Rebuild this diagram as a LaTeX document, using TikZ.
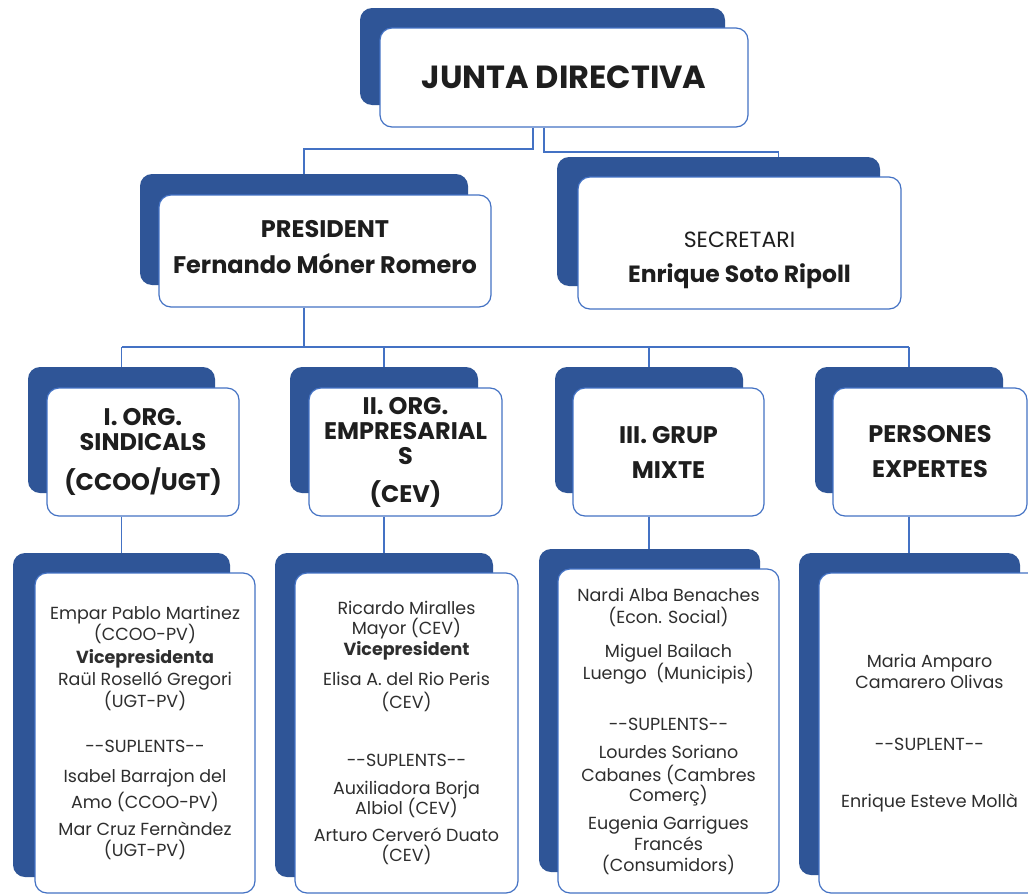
\documentclass[tikz,border=0pt]{standalone}
\usepackage{fontspec}
\setmainfont{Poppins}
\usetikzlibrary{calc}
\definecolor{navy}{HTML}{2F5597}
\definecolor{edge}{HTML}{4472C4}
\definecolor{ink}{HTML}{1E1E1E}
\definecolor{soft}{HTML}{2E2E2E}
\tikzset{
  back/.style={fill=navy, rounded corners=12pt, inner sep=0pt, draw=none},
  card/.style={fill=white, draw=edge, line width=1.2pt, rounded corners=12pt, inner sep=2pt, align=center, text=ink},
  conn/.style={draw=edge, line width=1.5pt},
  head/.style={font=\bfseries\fontsize{24}{25}\selectfont},
  body/.style={font=\fontsize{17.5}{21.5}\selectfont, text=soft},
}
\begin{document}
\begin{tikzpicture}[x=1pt,y=-1pt]
\useasboundingbox (0,0) rectangle (1028,894);
\fill[white] (0,0) rectangle (1028,894);

% top level
\node[back, minimum width=365pt, minimum height=97pt] (top-b) at (542.5,56.5) {};
\node[card, minimum width=368pt, minimum height=99pt, font=\bfseries\fontsize{32}{36}\selectfont] (top) at (564,77.5) {JUNTA DIRECTIVA};

% president / secretari
\node[back, minimum width=328pt, minimum height=111pt] (pres-b) at (304,229.5) {};
\node[card, minimum width=332pt, minimum height=112pt, font=\bfseries\fontsize{24}{36}\selectfont] (pres) at (325,251) {PRESIDENT\\Fernando Móner Romero\\[-28pt]\mbox{}};
\node[back, minimum width=323pt, minimum height=129pt] (sec-b) at (718.5,221.5) {};
\node[card, minimum width=323pt, minimum height=132pt, font=\fontsize{22}{35}\selectfont] (sec) at (739.5,243) {\mbox{}\\[16pt]SECRETARI\\{\bfseries\fontsize{23.5}{35}\selectfont Enrique Soto Ripoll}};

% row 3
\node[back, minimum width=187pt, minimum height=126pt] (c1-b) at (121.5,430) {};
\node[card, head, minimum width=192pt, minimum height=128pt] (c1) at (143,452) {I. ORG.\\SINDICALS\\[15pt](CCOO/UGT)};
\node[back, minimum width=188pt, minimum height=126pt] (c2-b) at (384,430) {};
\node[card, head, minimum width=193pt, minimum height=128pt] (c2) at (405.5,452) {II. ORG.\\EMPRESARIAL\\S\\[13pt](CEV)};
\node[back, minimum width=188pt, minimum height=126pt] (c3-b) at (649,430) {};
\node[card, head, minimum width=191pt, minimum height=128pt] (c3) at (668.5,452) {III. GRUP\\[10pt]MIXTE};
\node[back, minimum width=188pt, minimum height=126pt] (c4-b) at (909,430) {};
\node[card, head, minimum width=194pt, minimum height=128pt] (c4) at (930,452) {PERSONES\\[10pt]EXPERTES};

% row 4
\node[back, minimum width=217pt, minimum height=324pt] (p1-b) at (121.5,715) {};
\node[card, body, minimum width=220pt, minimum height=320pt] (p1) at (145,733) {Empar Pablo Martinez\\(CCOO-PV)\\[1pt]\textbf{Vicepresidenta}\\[1pt]Raül Roselló Gregori\\(UGT-PV)\\[24pt]-{}-SUPLENTS-{}-\\[8pt]Isabel Barrajon del\\[5pt]Amo (CCOO-PV)\\[5pt]Mar Cruz Fernàndez\\(UGT-PV)};
\node[back, minimum width=218pt, minimum height=324pt] (p2-b) at (384,715) {};
\node[card, body, minimum width=223pt, minimum height=320pt] (p2) at (406.5,733) {Ricardo Miralles\\[-1pt]Mayor (CEV)\\[-1pt]\textbf{Vicepresident}\\[9pt]Elisa A. del Rio Peris\\[1pt](CEV)\\[37pt]-{}-SUPLENTS-{}-\\[6pt]Auxiliadora Borja\\[-1pt]Albiol (CEV)\\[5pt]Arturo Cerveró Duato\\[-1pt](CEV)};
\node[back, minimum width=221pt, minimum height=323pt] (p3-b) at (649.5,710.5) {};
\node[card, body, minimum width=221pt, minimum height=324pt] (p3) at (668.5,731) {Nardi Alba Benaches\\[1pt](Econ. Social)\\[12pt]Miguel Bailach\\[1pt]Luengo\ \ (Municipis)\\[29pt]-{}-SUPLENTS-{}-\\[7pt]Lourdes Soriano\\[1pt]Cabanes (Cambres\\[-1pt]Comerç)\\[6pt]Eugenia Garrigues\\Francés\\[-1pt](Consumidors)};
\node[back, minimum width=221pt, minimum height=322pt] (p4-b) at (909.5,714) {};
\node[card, body, minimum width=221pt, minimum height=320pt] (p4) at (929.5,733) {Maria Amparo\\Camarero Olivas\\[40pt]-{}-SUPLENT-{}-\\[36pt]Enrique Esteve Mollà};

% connectors
\coordinate (tl) at ($(top-b.south)+(-9.5,0)$);
\coordinate (tr) at ($(top-b.south)+(1.5,0)$);
\coordinate (secin) at ($(sec-b.north)+(60,0)$);
\draw[conn] (tl |- top.south) -- (tl |- 0,149) -| (pres-b.north);
\draw[conn] (tr |- top.south) -- (tr |- 0,152) -| (secin);
\coordinate (bus) at (0,347);
\draw[conn] (pres-b.north |- pres.south) -- (pres-b.north |- bus);
\draw[conn] (c1-b.north |- bus) -- (c4-b.north |- bus);
\foreach \i in {1,2,3,4}{
  \draw[conn] (c\i-b.north |- bus) -- (c\i-b.north);
  \draw[conn] (c\i-b.north |- c\i.south) -- (c\i-b.north |- p\i-b.north);
}
\end{tikzpicture}
\end{document}
